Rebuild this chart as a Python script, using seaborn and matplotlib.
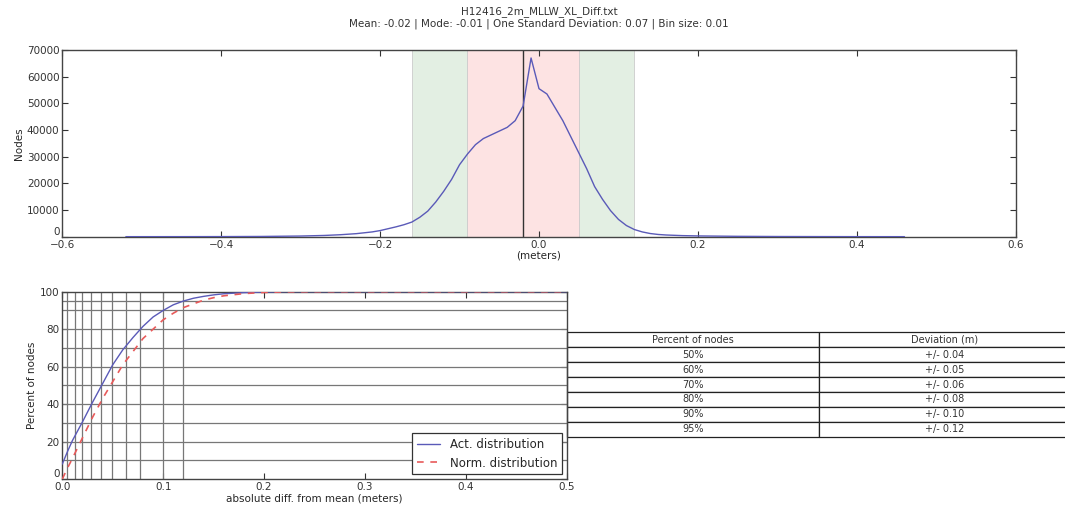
import numpy as np
import pandas as pd
import matplotlib
matplotlib.use('Agg')
import matplotlib.pyplot as plt
import seaborn as sns

# histogram of differences (bin centres in meters, node counts)
diff_m = [-0.52, -0.45, -0.40, -0.35, -0.30, -0.27, -0.25, -0.23, -0.21, -0.20,
          -0.19, -0.18, -0.17, -0.16, -0.15, -0.14, -0.13, -0.12, -0.11, -0.10,
          -0.09, -0.08, -0.07, -0.06, -0.05, -0.04, -0.03, -0.02, -0.01, 0.00,
          0.01, 0.02, 0.03, 0.04, 0.05, 0.06, 0.07, 0.08, 0.09, 0.10,
          0.11, 0.12, 0.13, 0.14, 0.15, 0.16, 0.18, 0.20, 0.25, 0.30,
          0.35, 0.40, 0.46]
node_count = [20, 30, 50, 100, 260, 480, 750, 1150, 1800, 2300,
              3000, 3700, 4500, 5500, 7300, 9600, 13000, 17000, 21500, 27000,
              31000, 34500, 36800, 38200, 39600, 41000, 43500, 49000, 67000, 55500,
              53500, 48500, 43500, 37500, 31500, 25500, 18800, 14000, 9800, 6500,
              4200, 2700, 1800, 1200, 850, 650, 420, 300, 150, 80,
              50, 30, 20]

mean_val = -0.02
std_val = 0.07
title_file = "H12416_2m_MLLW_XL_Diff.txt"
title_stats = "Mean: -0.02 | Mode: -0.01 | One Standard Deviation: 0.07 | Bin size: 0.01"

# cumulative curves
abs_diff = [0.0, 0.005, 0.01, 0.02, 0.03, 0.04, 0.05, 0.06, 0.07, 0.08,
            0.09, 0.10, 0.11, 0.12, 0.13, 0.14, 0.15, 0.16, 0.18, 0.20,
            0.22, 0.25, 0.30, 0.40, 0.50]
act_pct = [8, 14.5, 20.5, 30.5, 41, 51, 61, 69, 75.5, 81.5,
           86.5, 90, 93, 95, 96.5, 97.5, 98.3, 98.9, 99.5, 99.8,
           100, 100, 100, 100, 100]
norm_pct = [0, 5.7, 11, 22, 33, 43, 52, 61, 68, 75,
            80, 85, 88.5, 91.5, 93.5, 95.5, 96.8, 97.8, 99, 99.6,
            99.9, 100, 100, 100, 100]

# percentile grid lines
pct_levels = [10, 20, 30, 40, 50, 60, 70, 80, 90, 95]
dev_levels = [0.005, 0.013, 0.020, 0.028, 0.038, 0.049, 0.063, 0.077, 0.100, 0.120]

# table
table_pct = ["50%", "60%", "70%", "80%", "90%", "95%"]
table_dev = ["+/- 0.04", "+/- 0.05", "+/- 0.06", "+/- 0.08", "+/- 0.10", "+/- 0.12"]

sns.set_style("ticks", {"xtick.direction": "in", "ytick.direction": "in",
                        "axes.edgecolor": "#444444"})
plt.rcParams['font.family'] = ['DejaVu Sans']
plt.rcParams['font.size'] = 7.5

fig = plt.figure(figsize=(10.65, 5.08), dpi=100)
ax1 = fig.add_axes([0.0585, 0.534, 0.8952, 0.3676])
ax2 = fig.add_axes([0.0585, 0.057, 0.4736, 0.3688])

# top: histogram line with sigma bands
ax1.axvspan(mean_val - 2 * std_val, mean_val - std_val, facecolor='#e3efe3', edgecolor='#cccccc', lw=0.6, zorder=0)
ax1.axvspan(mean_val + std_val, mean_val + 2 * std_val, facecolor='#e3efe3', edgecolor='#cccccc', lw=0.6, zorder=0)
ax1.axvspan(mean_val - std_val, mean_val + std_val, facecolor='#fde3e3', edgecolor='#cccccc', lw=0.6, zorder=0)
ax1.axvline(mean_val, color='#333333', lw=1.0, zorder=2)
sns.lineplot(x=diff_m, y=node_count, ax=ax1, color='#5a5ab8', lw=1.0, zorder=3)
ax1.set_xlim(-0.6, 0.6)
ax1.set_ylim(0, 70000)
ax1.set_xticks(np.arange(-0.6, 0.61, 0.2))
ax1.set_yticks(np.arange(0, 70001, 10000))
ax1.set_xlabel("(meters)", fontsize=7.5, labelpad=1)
ax1.set_ylabel("Nodes", fontsize=7.5, labelpad=2)
ax1.set_title(title_file + "\n" + title_stats, fontsize=7.5, pad=17, color='#333333')

# bottom: cumulative distributions
for p in pct_levels:
    ax2.axhline(p, color='#777777', lw=0.9, zorder=1)
for d in dev_levels:
    ax2.axvline(d, color='#777777', lw=0.9, zorder=1)
cdf = pd.DataFrame({'x': abs_diff, 'act': act_pct, 'norm': norm_pct})
sns.lineplot(data=cdf, x='x', y='act', ax=ax2, color='#5a5ab8', lw=1.0,
             label='Act. distribution', zorder=3)
sns.lineplot(data=cdf, x='x', y='norm', ax=ax2, color='#e85a5a', lw=1.2,
             linestyle=(0, (4, 4)), label='Norm. distribution', zorder=3)
ax2.set_xlim(0, 0.5)
ax2.set_ylim(0, 100)
ax2.set_xticks(np.arange(0, 0.51, 0.1))
ax2.set_yticks(np.arange(0, 101, 20))
ax2.set_xlabel("absolute diff. from mean (meters)", fontsize=7.5, labelpad=1)
ax2.set_ylabel("Percent of nodes", fontsize=7.5, labelpad=2)
leg = ax2.legend(loc='lower right', fontsize=8.5, frameon=True, fancybox=False,
                 framealpha=1, edgecolor='#333333', borderaxespad=0.4)
leg.get_frame().set_linewidth(0.9)

for ax in (ax1, ax2):
    ax.tick_params(top=True, right=True, labelsize=7.5, length=4, width=0.8,
                   colors='#333333', pad=2)
    for s in ax.spines.values():
        s.set_linewidth(1.0)
    # the "0" of the y axis sits just above the corner, as in the old style
    fig.canvas.draw()
    ax.get_yticklabels()[0].set_verticalalignment('bottom')

tbl = ax2.table(cellText=[[a, b] for a, b in zip(table_pct, table_dev)],
                colLabels=["Percent of nodes", "Deviation (m)"],
                cellLoc='center', bbox=[1.0, 0.226, 1.0, 0.557])
tbl.auto_set_font_size(False)
tbl.set_fontsize(7)
for cell in tbl.get_celld().values():
    cell.set_linewidth(0.9)
    cell.set_edgecolor('#222222')
    cell.get_text().set_color('#333333')

fig.savefig('out.png', dpi=100)
